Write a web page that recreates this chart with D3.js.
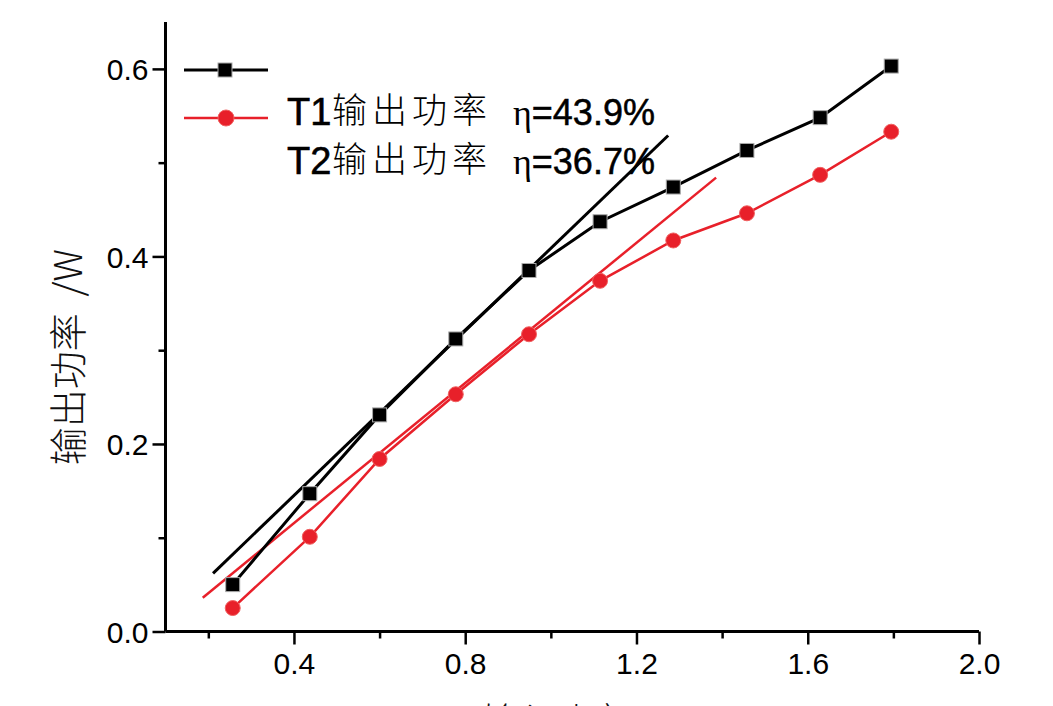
<!DOCTYPE html>
<html><head><meta charset="utf-8">
<script src="https://d3js.org/d3.v7.min.js"></script>
<style>body{margin:0;background:#fff;} svg{display:block;}</style>
</head><body>
<svg id="c" width="1053" height="706"></svg>
<script>
const xT1 = [0.257, 0.437, 0.600, 0.778, 0.949, 1.115, 1.286, 1.458, 1.629, 1.795];
const yT1 = [0.050, 0.147, 0.231, 0.312, 0.385, 0.437, 0.474, 0.513, 0.548, 0.603];
const xT2 = [0.257, 0.437, 0.600, 0.778, 0.949, 1.115, 1.286, 1.458, 1.629, 1.795];
const yT2 = [0.025, 0.101, 0.184, 0.253, 0.317, 0.374, 0.417, 0.446, 0.487, 0.533];
const fitT1X = [0.211, 1.274];
const fitT1Y = [0.062, 0.529];
const fitT2X = [0.187, 1.386];
const fitT2Y = [0.036, 0.484];
const xMajor = [0.4, 0.8, 1.2, 1.6, 2.0];
const xMinor = [0.2, 0.6, 1.0, 1.4, 1.8];
const yMajor = [0.0, 0.2, 0.4, 0.6];
const yMinor = [0.1, 0.3, 0.5];
const legendLabels = ["T1输出功率", "T2输出功率"];
const legendEta = ["=43.9%", "=36.7%"];
const yTitle = "输出功率  /W";
const xTitle = "输入功率 /W";

const BLACK = "#000", RED = "#e8202a";
const svg = d3.select("#c");
const x = d3.scaleLinear().domain([0.1, 2.0]).range([165.5, 979]);
const y = d3.scaleLinear().domain([0, 0.65]).range([631.5, 22]);

function fit(xs, ys, col, w) {
  svg.append("line").attr("x1", x(xs[0])).attr("y1", y(ys[0]))
    .attr("x2", x(xs[1])).attr("y2", y(ys[1]))
    .attr("stroke", col).attr("stroke-width", w);
}
fit(fitT1X, fitT1Y, BLACK, 3);
fit(fitT2X, fitT2Y, RED, 2.5);

const line = d3.line();
const p1 = xT1.map((v, i) => [x(v), y(yT1[i])]);
const p2 = xT2.map((v, i) => [x(v), y(yT2[i])]);
svg.append("path").attr("d", line(p1)).attr("fill", "none").attr("stroke", BLACK).attr("stroke-width", 3);
svg.append("path").attr("d", line(p2)).attr("fill", "none").attr("stroke", RED).attr("stroke-width", 2.5);

svg.selectAll(".sq").data(p1).enter().append("rect")
  .attr("x", d => d[0] - 7).attr("y", d => d[1] - 7).attr("width", 14).attr("height", 14)
  .attr("fill", BLACK).attr("stroke", "#aaa").attr("stroke-width", 1);
svg.selectAll(".ci").data(p2).enter().append("circle")
  .attr("cx", d => d[0]).attr("cy", d => d[1]).attr("r", 7.5)
  .attr("fill", RED).attr("stroke", "#f06060").attr("stroke-width", 1);

const gx = svg.append("g").attr("transform", "translate(0,631.5)");
gx.call(d3.axisBottom(x).tickValues(xMajor).tickSize(13).tickPadding(8).tickFormat(d3.format(".1f")));
gx.append("g").call(d3.axisBottom(x).tickValues(xMinor).tickSize(7).tickFormat(""));
const gy = svg.append("g").attr("transform", "translate(165.5,0)");
gy.call(d3.axisLeft(y).tickValues(yMajor).tickSize(13).tickPadding(4).tickFormat(d3.format(".1f")));
gy.append("g").call(d3.axisLeft(y).tickValues(yMinor).tickSize(7).tickFormat(""));
svg.selectAll(".domain").attr("stroke", BLACK).attr("stroke-width", 3);
svg.selectAll(".tick line").attr("stroke", BLACK).attr("stroke-width", 2.5);
svg.selectAll("g g .domain").remove();
svg.selectAll(".tick text").attr("font-family", "'Liberation Sans', Arial, sans-serif")
  .attr("font-size", 30).attr("fill", BLACK);
gx.selectAll(".tick text").attr("dy", "0.71em");
gy.selectAll(".tick text").attr("dy", "0.36em");
gy.select(".domain").attr("d", `M0,${y(0)}V${y(0.65)}`);
gx.select(".domain").attr("d", `M${x(0.1)},0H${x(2.0)}`);

svg.append("text").attr("transform", "translate(82,357) rotate(-90)")
  .attr("text-anchor", "middle").attr("font-family", "'Noto Sans CJK SC', sans-serif")
  .attr("font-size", 38).attr("font-weight", 300).attr("fill", "#111")
  .attr("xml:space", "preserve").style("white-space", "pre").text(yTitle);
svg.append("text").attr("x", 580).attr("y", 734)
  .attr("text-anchor", "middle").attr("font-family", "'Noto Sans CJK SC', sans-serif")
  .attr("font-size", 36).attr("font-weight", 300).attr("fill", "#111").text(xTitle);

// legend
svg.append("line").attr("x1", 184).attr("x2", 268).attr("y1", 70).attr("y2", 70).attr("stroke", BLACK).attr("stroke-width", 3);
svg.append("rect").attr("x", 218).attr("y", 63).attr("width", 14).attr("height", 14).attr("fill", BLACK).attr("stroke", "#aaa");
svg.append("line").attr("x1", 184).attr("x2", 268).attr("y1", 118).attr("y2", 118).attr("stroke", RED).attr("stroke-width", 2.5);
svg.append("circle").attr("cx", 226).attr("cy", 118).attr("r", 8).attr("fill", RED).attr("stroke", "#f06060");

legendLabels.forEach((lab, i) => {
  const by = 125 + i * 49;
  svg.append("text").attr("x", 287).attr("y", by).attr("font-family", "'Liberation Sans', Arial, sans-serif")
    .attr("font-size", 38).attr("fill", BLACK).attr("stroke", BLACK).attr("stroke-width", 0.6).text(lab.slice(0, 2));
  svg.append("text").attr("x", 332).attr("y", by - 2).attr("font-family", "'Noto Sans CJK SC', sans-serif")
    .attr("font-size", 35).attr("font-weight", 300).attr("letter-spacing", 5).attr("fill", BLACK).text(lab.slice(2));
  const t = svg.append("text").attr("x", 513).attr("y", by).attr("fill", BLACK);
  t.append("tspan").attr("font-family", "'Liberation Serif', 'Times New Roman', serif").attr("font-size", 36).text("η");
  t.append("tspan").attr("font-family", "'Liberation Sans', Arial, sans-serif").attr("font-size", 36)
    .attr("stroke", BLACK).attr("stroke-width", 0.5).text(legendEta[i]);
});
</script>
</body></html>
